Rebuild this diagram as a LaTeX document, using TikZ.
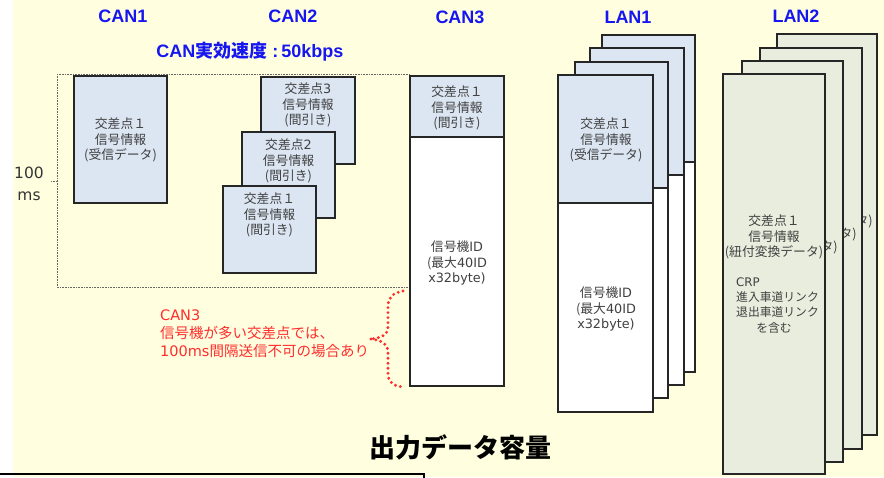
\documentclass[tikz,border=0pt]{standalone}
\usepackage{fontspec}
\setmainfont{Noto Sans CJK JP}
\newfontfamily\lat{DejaVu Sans}
\newfontfamily\ttlfont{Liberation Sans}
\definecolor{bgyellow}{RGB}{255,255,224}
\definecolor{boxblue}{RGB}{220,230,242}
\definecolor{boxgreen}{RGB}{233,237,222}
\definecolor{ttlblue}{RGB}{22,22,240}
\definecolor{txtgray}{RGB}{64,64,64}
\definecolor{notered}{RGB}{255,45,45}
\definecolor{framecol}{RGB}{38,38,38}
\tikzset{
  ttl/.style={font=\ttlfont\bfseries\fontsize{18}{20}\selectfont, text=ttlblue, inner sep=0pt},
  body/.style={font=\fontsize{12.8}{15.3}\selectfont, text=txtgray, align=center, inner sep=0pt},
  frame/.style={draw=framecol, line width=1.6pt},
  bluebox/.style={frame, fill=boxblue},
  greenbox/.style={frame, fill=boxgreen},
  whitebox/.style={frame, fill=white},
  rangebox/.style={draw=black!60, line width=0.8pt, dash pattern=on 0.8pt off 0.8pt},
  bracedots/.style={draw=notered, line width=3.2pt, dash pattern=on 0pt off 5pt, line cap=round},
}
\begin{document}
\begin{tikzpicture}[x=1pt,y=-1pt]
\useasboundingbox (0,0) rectangle (884,477);
\fill[white] (0,0) rectangle (884,477);
\fill[bgyellow] (13,0) rectangle (884,477);

% titles
\node[ttl] (tcan1) at (123,16) {CAN1};
\node[ttl] (tcan2) at (293,16) {CAN2};
\node[ttl] (tcan3) at (460,17) {CAN3};
\node[ttl] (tlan1) at (628,17) {LAN1};
\node[ttl] (tlan2) at (796,16) {LAN2};
\node[font=\bfseries\fontsize{18}{20}\selectfont, text=ttlblue, inner sep=0pt] (speed) at (250,52) {{\ttlfont CAN}実効速度{\ttlfont\ :\,50kbps}};

% 100 ms range
\draw[rangebox] (57,74) rectangle (410,287);
\draw[rangebox] (51,181) -- (56,181);
\node[font=\lat\fontsize{15.5}{21.5}\selectfont, text=black!80, align=center, inner sep=0pt] (ms) at (29,184) {100\\ms};

% CAN1
\draw[bluebox] (74,76) rectangle (167,203);
\node[body] (c1t) at (120.5,140) {交差点１\\信号情報\\(受信データ)};

% CAN2
\draw[bluebox] (261,77) rectangle (355,164);
\node[body] (c2t3) at (308,105) {交差点{\lat 3}\\信号情報\\(間引き)};
\draw[bluebox] (242,132) rectangle (335,218);
\node[body] (c2t2) at (288.5,161) {交差点{\lat 2}\\信号情報\\(間引き)};
\draw[bluebox] (223,186) rectangle (316,273);
\node[body] (c2t1) at (269.5,215) {交差点１\\信号情報\\(間引き)};

% CAN3
\fill[white] (410,76) rectangle (504,386);
\fill[boxblue] (410,76) rectangle (504,137);
\draw[framecol, line width=1.6pt] (410,137) -- (504,137);
\draw[frame] (410,76) rectangle (504,386);
\node[body] (c3t) at (457,108) {交差点１\\信号情報\\(間引き)};
\node[body] (c3b) at (457,263) {信号機{\lat ID}\\(最大{\lat 40ID}\\{\lat x32byte)}};

% LAN1 stack (back to front)
\fill[white] (602,35) rectangle (695,372);
\fill[boxblue] (602,35) rectangle (695,162);
\draw[framecol, line width=1.6pt] (602,162) -- (695,162);
\draw[frame] (602,35) rectangle (695,372);

\fill[white] (590,48) rectangle (684,385);
\fill[boxblue] (590,48) rectangle (684,175);
\draw[framecol, line width=1.6pt] (590,175) -- (684,175);
\draw[frame] (590,48) rectangle (684,385);

\fill[white] (575,62) rectangle (668,398);
\fill[boxblue] (575,62) rectangle (668,188);
\draw[framecol, line width=1.6pt] (575,188) -- (668,188);
\draw[frame] (575,62) rectangle (668,398);

\fill[white] (558,75) rectangle (653,412);
\fill[boxblue] (558,75) rectangle (653,203);
\draw[framecol, line width=1.6pt] (558,203) -- (653,203);
\draw[frame] (558,75) rectangle (653,412);
\node[body] (l1t) at (606,140) {交差点１\\信号情報\\(受信データ)};
\node[body] (l1b) at (606,309) {信号機{\lat ID}\\(最大{\lat 40ID}\\{\lat x32byte)}};

% LAN2 stack (back to front); only the ends of the hidden texts show
\draw[greenbox] (777,34) rectangle (877,435);
\node[body, anchor=east] (l2t4) at (873,222) {タ)};
\draw[greenbox] (760,48) rectangle (862,449);
\node[body, anchor=east] (l2t3) at (857,235) {タ)};
\draw[greenbox] (742,61) rectangle (843,462);
\node[body, anchor=east] (l2t2) at (838,248) {タ)};
\draw[greenbox] (723,74) rectangle (825,474);
\node[body] (l2t1) at (774,237) {交差点１\\信号情報\\(紐付変換データ)};
\node[body, font=\fontsize{11.8}{15}\selectfont, align=left, anchor=west] (l2crp) at (736,298) {{\lat CRP}\\進入車道リンク\\退出車道リンク};
\node[body, font=\fontsize{11.8}{15}\selectfont] (l2inc) at (774,328) {を含む};

% red note and brace
\node[font=\fontsize{14.5}{18}\selectfont, text=notered, align=left, anchor=west, inner sep=0pt] (note) at (160,334)
  {{\lat CAN3}\\信号機が多い交差点では、\\{\lat 100ms}間隔送信不可の場合あり};
\coordinate (bt) at (403,291);
\coordinate (btip) at (371,339);
\coordinate (bb) at (403,387);
\draw[bracedots] (bt) .. controls (392,293) and (388,298) .. (388,307) -- (388,327) .. controls (388,335) and (381,338) .. (btip);
\draw[bracedots] (btip) .. controls (381,340) and (388,344) .. (388,352) -- (388,373) .. controls (388,382) and (393,386) .. (bb);

% caption
\node[font=\bfseries\fontsize{26}{30}\selectfont, text=black, inner sep=0pt] (cap) at (460,447) {出力データ容量};

% partial box at bottom left
\draw[black, line width=1.5pt] (-2,474) -- (424,474) -- (424,482);
\end{tikzpicture}
\end{document}
